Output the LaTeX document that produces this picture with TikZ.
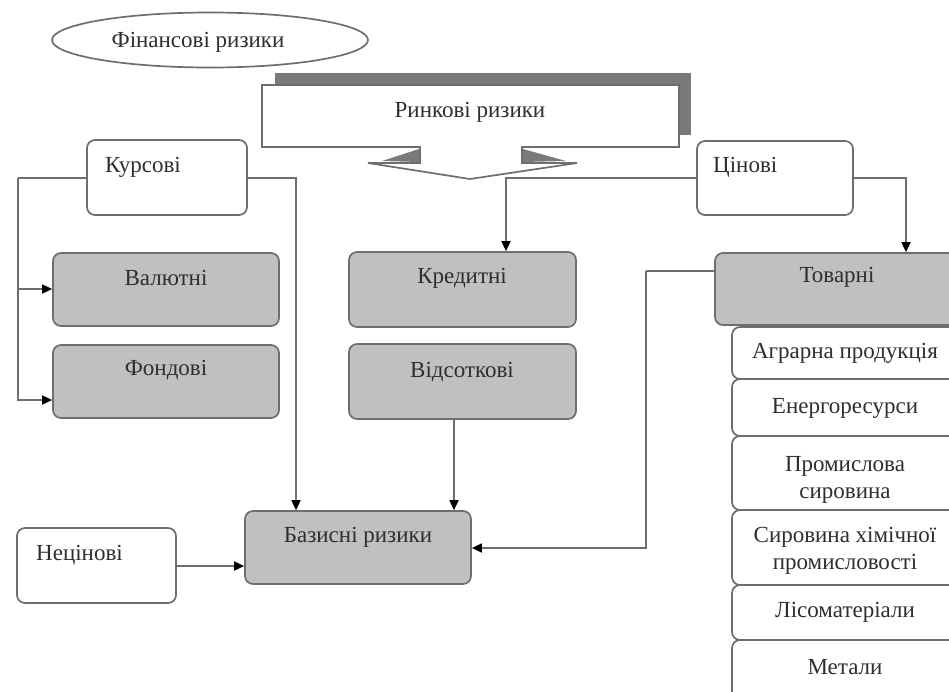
\documentclass[tikz,border=0pt]{standalone}
\usepackage{fontspec}
\setmainfont{Liberation Serif}
\usetikzlibrary{arrows.meta,shapes.geometric}
\definecolor{ln}{HTML}{6E6E6E}
\definecolor{gf}{HTML}{C0C0C0}
\definecolor{sh}{HTML}{7A7A7A}
\definecolor{tx}{HTML}{2E2E2E}
\begin{document}
\begin{tikzpicture}[x=1pt,y=-1pt,
  box/.style={draw=ln, line width=1.7pt, rounded corners=8pt, inner sep=0pt},
  wbox/.style={box, fill=white},
  gbox/.style={box, fill=gf},
  lbl/.style={text=tx, font=\fontsize{23}{27}\selectfont, inner sep=0pt, align=center},
  conn/.style={draw=ln, line width=1.7pt},
  arr/.style={conn, -{Triangle[length=10pt,width=9pt,color=black]}}
]
\useasboundingbox (0,0) rectangle (949,691);
\clip (0,0) rectangle (949,691);
\fill[white] (0,0) rectangle (949,691);

% ellipse
\node[draw=ln, line width=1.7pt, ellipse, minimum width=316pt, minimum height=55pt, inner sep=0pt] (fin) at (210,40) {};
\node[lbl] (finT) at (198,42) {Фінансові ризики};

% callout with shadow
\fill[sh] (275,73) rectangle (691,135);
\draw[ln, line width=1.7pt, fill=white, line join=miter] (262,85) -- (679,85) -- (679,147) -- (522,147) -- (522,163) -- (577,163) -- (470,179) -- (368,163) -- (420,163) -- (420,147) -- (262,147) -- cycle;
\fill[sh] (419,149) -- (419,162) -- (382,161) -- cycle;
\fill[sh] (523,149) -- (523,162) -- (566,161) -- cycle;
\node[lbl] (rynk) at (470,112) {Ринкові ризики};

% boxes
\node[wbox, minimum width=160pt, minimum height=75pt] (kurs) at (167,177.5) {};
\node[lbl, anchor=west] at (105,167) {Курсові};
\node[wbox, minimum width=156pt, minimum height=74pt] (tsin) at (775,178) {};
\node[lbl, anchor=west] at (713,167) {Цінові};

\node[gbox, minimum width=226pt, minimum height=73pt] (val) at (166,289.5) {};
\node[lbl] at (166,278) {Валютні};
\node[gbox, minimum width=226pt, minimum height=73pt] (fond) at (166,381.5) {};
\node[lbl] at (166,370) {Фондові};

\node[gbox, minimum width=227pt, minimum height=75pt] (kred) at (462.5,289.5) {};
\node[lbl] at (462,278) {Кредитні};
\node[gbox, minimum width=227pt, minimum height=75pt] (vids) at (462.5,381.5) {};
\node[lbl] at (462,372) {Відсоткові};

\node[gbox, minimum width=245pt, minimum height=72pt] (tov) at (837.5,289) {};
\node[lbl] at (837,277) {Товарні};

\node[gbox, minimum width=226pt, minimum height=73pt] (baz) at (358,547.5) {};
\node[lbl] at (358,537) {Базисні ризики};

\node[wbox, minimum width=159pt, minimum height=75pt] (nets) at (96.5,565.5) {};
\node[lbl, anchor=west] at (36,555) {Нецінові};

% list of commodities
\node[wbox, minimum width=226pt, minimum height=52pt] (agr) at (845,353) {};
\node[lbl] at (845,353) {Аграрна продукція};
\node[wbox, minimum width=226pt, minimum height=57pt] (en) at (845,407.5) {};
\node[lbl] at (845,408) {Енергоресурси};
\node[wbox, minimum width=226pt, minimum height=74pt] (prom) at (845,473) {};
\node[lbl] at (845,480) {Промислова\\сировина};
\node[wbox, minimum width=226pt, minimum height=75pt] (syr) at (845,547.5) {};
\node[lbl] at (845,551) {Сировина хімічної\\промисловості};
\node[wbox, minimum width=226pt, minimum height=55pt] (lis) at (845,612.5) {};
\node[lbl] at (845,612) {Лісоматеріали};
\node[wbox, minimum width=226pt, minimum height=60pt] (met) at (845,670) {};
\node[lbl] at (845,667) {Метали};

% connectors
\coordinate (kl) at (18,178);
\draw[conn] (kurs.west |- 0,178) -- (kl);
\draw[arr] (kl) |- (val.west |- 0,289);
\draw[arr] (kl) |- (fond.west |- 0,400);
\draw[arr] (kurs.east |- 0,178) -| (baz.north -| 296,0);
\draw[arr] (vids.south -| 454,0) -- (baz.north -| 454,0);
\draw[arr] (tsin.west |- 0,178) -| (kred.north -| 506,0);
\draw[arr] (tsin.east |- 0,178) -| (tov.north -| 906,0);
\coordinate (tb) at (646,271);
\draw[conn] (tov.west |- 0,271) -- (tb);
\draw[arr] (tb) |- (baz.east |- 0,548);
\draw[arr] (nets.east |- 0,566) -- (baz.west |- 0,566);
\end{tikzpicture}
\end{document}
